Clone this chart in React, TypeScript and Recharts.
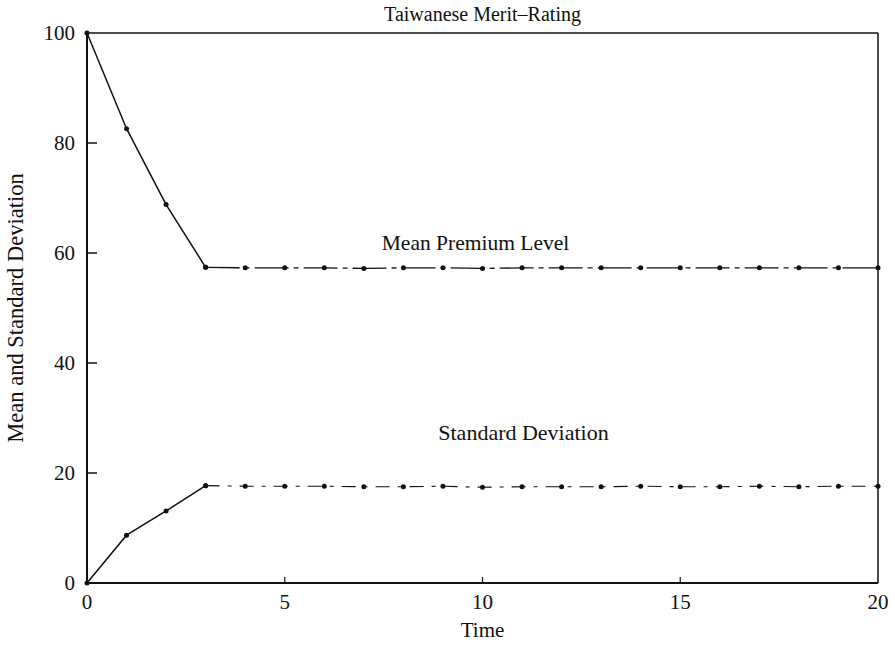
import React from "react";
import { LineChart, Line, XAxis, YAxis, ReferenceLine, Label } from "recharts";

const time = [0, 1, 2, 3, 4, 5, 6, 7, 8, 9, 10, 11, 12, 13, 14, 15, 16, 17, 18, 19, 20];
const meanPremium = [100, 82.6, 68.8, 57.4, 57.3, 57.3, 57.3, 57.2, 57.3, 57.3, 57.2, 57.3, 57.3, 57.3, 57.3, 57.3, 57.3, 57.3, 57.3, 57.3, 57.3];
const stdDev = [0, 8.7, 13.1, 17.7, 17.6, 17.6, 17.6, 17.5, 17.5, 17.6, 17.4, 17.5, 17.5, 17.5, 17.6, 17.5, 17.5, 17.6, 17.5, 17.6, 17.6];
const xTicks = [0, 5, 10, 15, 20];
const yTicks = [0, 20, 40, 60, 80, 100];
const TRANSITION = 3; // solid up to here, broken line after

const data = time.map((t, i) => ({
  t,
  meanA: t <= TRANSITION ? meanPremium[i] : null,
  meanB: t >= TRANSITION ? meanPremium[i] : null,
  sdA: t <= TRANSITION ? stdDev[i] : null,
  sdB: t >= TRANSITION ? stdDev[i] : null,
}));

const FONT = "'Liberation Serif', 'DejaVu Serif', serif";
const W = 895;
const H = 645;
const margin = { top: 33, right: 17, left: 0, bottom: 0 };
const Y_AXIS_W = 87;
const X_AXIS_H = 62;

function YTick(props: any) {
  const { x, y, payload } = props;
  const axisX = x + 12;
  return (
    <g>
      <text x={x} y={y} dy={7} textAnchor="end" fontFamily={FONT} fontSize={21} fill="#111">
        {payload.value}
      </text>
      {payload.value !== 0 && payload.value !== 100 ? (
        <line x1={axisX} x2={axisX + 10} y1={y} y2={y} stroke="#111" strokeWidth={1.5} />
      ) : null}
    </g>
  );
}

function XTick(props: any) {
  const { x, y, payload } = props;
  const axisY = y - 12;
  return (
    <g>
      <text x={x} y={y} dy={14} textAnchor="middle" fontFamily={FONT} fontSize={21} fill="#111">
        {payload.value}
      </text>
      {payload.value !== 0 && payload.value !== 20 ? (
        <line x1={x} x2={x} y1={axisY} y2={axisY - 6} stroke="#111" strokeWidth={1.2} />
      ) : null}
    </g>
  );
}

const dot = { r: 2.5, fill: "#111", stroke: "none" };

export default function App() {
  return (
    <div style={{ position: "absolute", left: 0, top: 0, width: W, height: H, background: "#fff" }}>
      <LineChart width={W} height={H} data={data} margin={margin}>
        <XAxis
          dataKey="t"
          type="number"
          domain={[0, 20]}
          ticks={xTicks}
          tick={<XTick />}
          tickLine={false}
          tickSize={0}
          tickMargin={12}
          height={X_AXIS_H}
          axisLine={{ stroke: "#111", strokeWidth: 2 }}
        >
          <Label value="Time" position="insideBottom" offset={8} style={{ fontFamily: FONT, fontSize: 21, fill: "#111" }} />
        </XAxis>
        <YAxis
          type="number"
          domain={[0, 100]}
          ticks={yTicks}
          tick={<YTick />}
          tickLine={false}
          tickSize={0}
          tickMargin={12}
          width={Y_AXIS_W}
          axisLine={{ stroke: "#111", strokeWidth: 2 }}
        >
          <Label
            value="Mean and Standard Deviation"
            angle={-90}
            position="insideLeft"
            offset={15}
            style={{ fontFamily: FONT, fontSize: 22.5, fill: "#111", textAnchor: "middle" }}
          />
        </YAxis>
        <ReferenceLine y={100} stroke="#111" strokeWidth={1.5}>
          <Label value="Taiwanese Merit–Rating" position="top" offset={12} style={{ fontFamily: FONT, fontSize: 20, fill: "#111" }} />
        </ReferenceLine>
        <ReferenceLine x={20} stroke="#111" strokeWidth={1.5} />
        <Line dataKey="meanA" stroke="#111" strokeWidth={1.5} dot={dot} isAnimationActive={false} connectNulls={false} />
        <Line dataKey="meanB" stroke="#111" strokeWidth={1.3} strokeDasharray="34 5 5 5" dot={dot} isAnimationActive={false} connectNulls={false} />
        <Line dataKey="sdA" stroke="#111" strokeWidth={1.5} dot={dot} isAnimationActive={false} connectNulls={false} />
        <Line dataKey="sdB" stroke="#111" strokeWidth={1.1} strokeDasharray="14 8 4 8" dot={dot} isAnimationActive={false} connectNulls={false} />
        <ReferenceLine y={62} stroke="none" ifOverflow="visible">
          <Label value="Mean Premium Level" position="center" dx={-7} style={{ fontFamily: FONT, fontSize: 21.5, fill: "#111" }} />
        </ReferenceLine>
        <ReferenceLine y={27.5} stroke="none" ifOverflow="visible">
          <Label value="Standard Deviation" position="center" dx={41} style={{ fontFamily: FONT, fontSize: 22, fill: "#111" }} />
        </ReferenceLine>
      </LineChart>
    </div>
  );
}
